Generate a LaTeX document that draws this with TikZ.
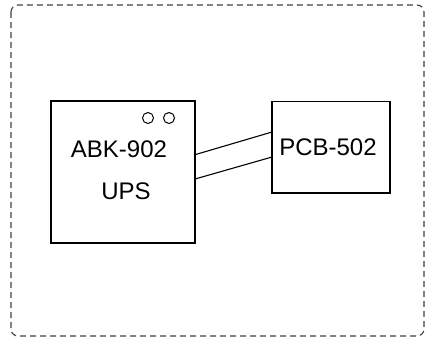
\documentclass[tikz,border=0pt]{standalone}
\usepackage{fontspec}
\setmainfont{Liberation Sans}
\begin{document}
\begin{tikzpicture}[x=1pt,y=-1pt,
  box/.style={draw,line width=1.2pt,minimum width=0pt,inner sep=0pt},
  lbl/.style={font=\fontsize{24}{27}\selectfont,inner sep=0pt,anchor=base},
  led/.style={draw,line width=1pt,circle,minimum size=11pt,inner sep=0pt},
  wire/.style={line width=1.1pt},
  frame/.style={draw=black!75,line width=1.1pt,dash pattern=on 6pt off 4pt,rounded corners=7pt}]
\useasboundingbox (0,0) rectangle (427,338);
\draw[frame] (11,5) rectangle (424,336);
\draw[box] (51,101) rectangle (195,243);
\draw[box] (272,101.5) rectangle (390,193);
\coordinate (a1) at (195,154.7);
\coordinate (b1) at (272,132);
\coordinate (a2) at (195,179);
\coordinate (b2) at (272,157);
\draw[wire] (a1) -- (b1);
\draw[wire] (a2) -- (b2);
\node[led] (c1) at (148,118) {};
\node[led] (c2) at (169,118) {};
\node[lbl] (abk) at (119,157) {ABK-902};
\node[lbl] (ups) at (126,199) {UPS};
\node[lbl] (pcb) at (328,155) {PCB-502};
\end{tikzpicture}
\end{document}
